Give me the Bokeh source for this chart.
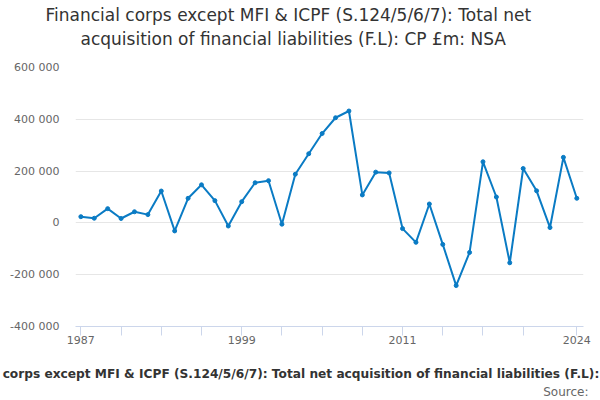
from bokeh.plotting import figure
from bokeh.models import FixedTicker, Title, ColumnDataSource
from bokeh.embed import file_html
from bokeh.resources import INLINE

years = list(range(1987, 2025))
values = [24000, 18000, 55000, 17000, 43000, 32000, 123000, -31000, 95000, 147000,
          86000, -12000, 82000, 155000, 163000, -5000, 188000, 267000, 345000, 406000,
          432000, 108000, 196000, 193000, -22000, -75000, 73000, -83000, -242000, -114000,
          236000, 100000, -154000, 210000, 124000, -18000, 253000, 95000]

y_ticks = [-400000, -200000, 0, 200000, 400000, 600000]
y_labels = ["-400 000", "-200 000", "0", "200 000", "400 000", "600 000"]
x_ticks = [1987, 1990, 1993, 1996, 1999, 2002, 2005, 2008, 2011, 2014, 2017, 2020, 2024]
x_labels = {1987: "1987", 1999: "1999", 2011: "2011", 2024: "2024"}

title_line1 = "Financial corps except MFI & ICPF (S.124/5/6/7): Total net"
title_line2 = "acquisition of financial liabilities (F.L): CP £m: NSA"
footer_text = "Financial corps except MFI & ICPF (S.124/5/6/7): Total net acquisition of financial liabilities (F.L): CP £m: NSA"
source_text = "Source:"

src = ColumnDataSource(data=dict(x=years, y=values))

p = figure(width=600, height=400, output_backend="svg", toolbar_location=None, title=None,
           x_range=(1986.6, 2024.5), y_range=(-400000, 600000),
           min_border_left=75, min_border_right=17, min_border_top=67, min_border_bottom=73)
p.outline_line_color = None

p.line("x", "y", source=src, line_color="#0a7bc4", line_width=2)
p.scatter("x", "y", source=src, size=4, color="#0a7bc4")

# y axis
p.yaxis.ticker = FixedTicker(ticks=y_ticks)
p.yaxis.major_label_overrides = {t: l for t, l in zip(y_ticks, y_labels)}
p.yaxis.axis_line_color = None
p.yaxis.major_tick_line_color = None
p.yaxis.major_tick_out = 0
p.yaxis.major_tick_in = 0
p.yaxis.minor_tick_line_color = None
p.yaxis.minor_tick_out = 0
p.yaxis.major_label_text_font = "DejaVu Sans"
p.yaxis.major_label_text_font_size = "11px"
p.yaxis.major_label_text_color = "#666666"
p.yaxis.major_label_standoff = 16

# x axis
p.xaxis.ticker = FixedTicker(ticks=x_ticks)
p.xaxis.major_label_overrides = {t: x_labels.get(t, "") for t in x_ticks}
p.xaxis.axis_line_color = "#ccd6eb"
p.xaxis.major_tick_line_color = "#ccd6eb"
p.xaxis.major_tick_in = 0
p.xaxis.major_tick_out = 9
p.xaxis.minor_tick_line_color = None
p.xaxis.minor_tick_out = 0
p.xaxis.major_label_text_font = "DejaVu Sans"
p.xaxis.major_label_text_font_size = "11px"
p.xaxis.major_label_text_color = "#666666"
p.xaxis.major_label_standoff = 0

p.xgrid.grid_line_color = None
p.ygrid.grid_line_color = "#e6e6e6"

# title (above panels stack outward from the frame)
p.add_layout(Title(text=" ", text_font_size="1px", standoff=16), "above")
p.add_layout(Title(text=title_line2, align="left", offset=5, text_font="DejaVu Sans",
                   text_font_size="17px", text_font_style="normal", text_color="#333333",
                   standoff=0), "above")
p.add_layout(Title(text=title_line1, align="left", offset=-30, text_font="DejaVu Sans",
                   text_font_size="17px", text_font_style="normal", text_color="#333333",
                   standoff=4), "above")

# footer (below panels stack outward from the axis)
p.add_layout(Title(text=" ", text_font_size="1px", standoff=15), "below")
p.add_layout(Title(text=footer_text, align="left", offset=-139, text_font="DejaVu Sans",
                   text_font_size="12.2px", text_font_style="bold", text_color="#333333",
                   standoff=0), "below")
p.add_layout(Title(text=source_text, align="right", offset=-5, text_font="DejaVu Sans",
                   text_font_size="12px", text_font_style="normal", text_color="#666666",
                   standoff=4), "below")

open("out.html", "w").write(file_html(p, INLINE))
